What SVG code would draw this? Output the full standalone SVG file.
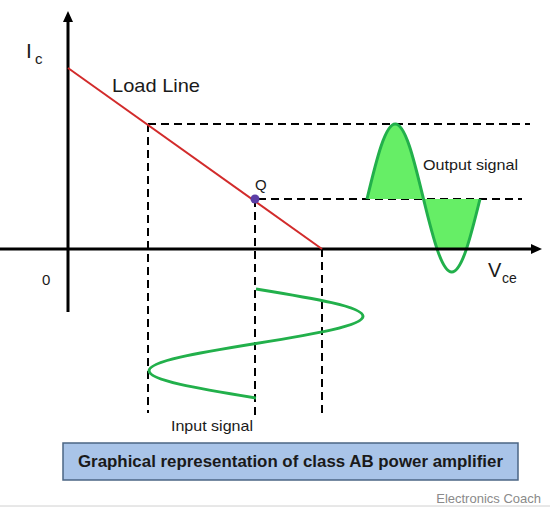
<svg xmlns="http://www.w3.org/2000/svg" width="550" height="507" viewBox="0 0 550 507">
<style>
.t{font-family:"Liberation Sans",Arial,sans-serif;fill:#1a1a1a}
.dash{stroke:#000;stroke-width:2;stroke-dasharray:8 5;fill:none}
.ax{stroke:#000;stroke-width:3;fill:none}
.sig{stroke:#22b04b;stroke-width:3;fill:none}
</style>
<defs>
<clipPath id="abv"><rect x="0" y="0" width="550" height="249"/></clipPath>
</defs>
<rect width="550" height="507" fill="#fff"/>
<g id="connectors">
<line class="dash" x1="148" y1="124" x2="530" y2="124"/>
<line class="dash" x1="258" y1="199" x2="522" y2="199"/>
<line class="dash" x1="148" y1="124" x2="148" y2="413"/>
<line class="dash" x1="255" y1="199" x2="255" y2="416"/>
<line class="dash" x1="322" y1="249" x2="322" y2="413"/>
</g>
<g id="output-signal">
<path clip-path="url(#abv)" fill="#66ee66" stroke="none" d="M367,199 C371.708,179.365 376.417,159.854 381.125,145.97 C385.833,132.086 390.542,124 395.25,124 C399.958,124 404.667,132.086 409.375,145.97 C414.083,159.854 418.792,179.627 423.5,199 C428.208,218.373 432.917,237.106 437.625,250.62 C442.333,264.134 447.042,272 451.75,272 C456.458,272 461.167,264.134 465.875,250.62 C470.583,237.106 475.292,218.111 480,199 Z"/>
<path class="sig" d="M367,199 C371.708,179.365 376.417,159.854 381.125,145.97 C385.833,132.086 390.542,124 395.25,124 C399.958,124 404.667,132.086 409.375,145.97 C414.083,159.854 418.792,179.627 423.5,199 C428.208,218.373 432.917,237.106 437.625,250.62 C442.333,264.134 447.042,272 451.75,272 C456.458,272 461.167,264.134 465.875,250.62 C470.583,237.106 475.292,218.111 480,199"/>
<text class="t" x="423" y="170" font-size="15" textLength="95" lengthAdjust="spacingAndGlyphs">Output signal</text>
</g>
<g id="axes">
<line class="ax" x1="68" y1="312" x2="68" y2="20"/>
<polygon points="68,11 63,22 73,22" fill="#000"/>
<line class="ax" x1="0" y1="249" x2="532" y2="249"/>
<polygon points="542,249 531,244 531,254" fill="#000"/>
<text class="t" x="26" y="58" font-size="21">I</text>
<text class="t" x="35" y="64" font-size="15">c</text>
<text class="t" x="488" y="277" font-size="20">V</text>
<text class="t" x="502" y="283" font-size="14">ce</text>
<text class="t" x="42" y="285" font-size="15">0</text>
</g>
<g id="load-line">
<line x1="68" y1="68" x2="322" y2="249" stroke="#d22b2b" stroke-width="2"/>
<text class="t" x="112" y="92" font-size="19" textLength="88" lengthAdjust="spacingAndGlyphs">Load Line</text>
</g>
<g id="q-point">
<circle cx="255" cy="199" r="4.5" fill="#5b3ea6"/>
<text class="t" x="255" y="190" font-size="15">Q</text>
</g>
<g id="input-signal">
<path class="sig" d="M256,289 C284.013,293.541 311.852,298.084 331.66,302.625 C351.468,307.166 363,311.709 363,316.25 C363,320.791 351.468,325.334 331.66,329.875 C311.852,334.416 284.013,338.959 256,343.5 C227.987,348.041 200.148,352.584 180.34,357.125 C160.532,361.666 149,366.209 149,370.75 C149,375.291 160.532,379.834 180.34,384.375 C200.148,388.916 227.987,393.459 256,398"/>
<text class="t" x="171" y="431" font-size="15" textLength="82" lengthAdjust="spacingAndGlyphs">Input signal</text>
</g>
<g id="caption">
<rect x="63" y="443" width="455" height="37" fill="#a9c4e8" stroke="#4b6584" stroke-width="1.5"/>
<text class="t" x="290.5" y="467" font-size="17" font-weight="bold" text-anchor="middle" textLength="425" lengthAdjust="spacingAndGlyphs">Graphical representation of class AB power amplifier</text>
</g>
<g id="watermark">
<text x="541" y="503" font-family="Liberation Sans,Arial,sans-serif" font-size="13" fill="#8a8a8a" text-anchor="end">Electronics Coach</text>
<line x1="0" y1="506" x2="550" y2="506" stroke="#d0d0d0" stroke-width="1"/>
</g>
</svg>
